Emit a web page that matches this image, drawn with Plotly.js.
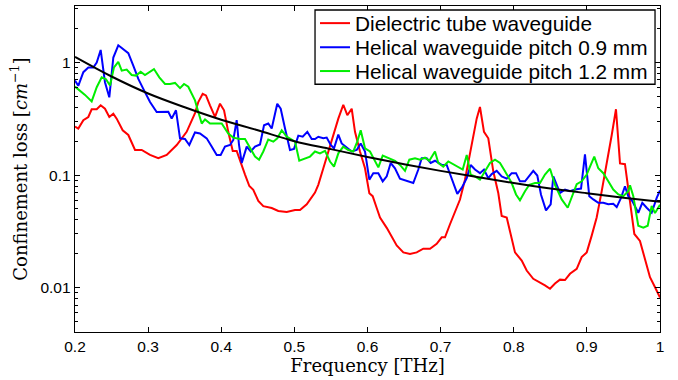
<!DOCTYPE html>
<html>
<head>
<meta charset="utf-8">
<script src="https://cdn.plot.ly/plotly-3.0.1.min.js"></script>
<style>html,body{margin:0;padding:0;background:#fff;}#chart{width:678px;height:380px;}</style>
</head>
<body>
<div id="chart"></div>
<script>
// Dielectric tube waveguide
const redFreq = [0.200,0.2045,0.2114,0.2182,0.2228,0.2297,0.2351,0.2410,0.2469,0.2524,0.2570,0.2652,0.2729,0.2821,0.2912,0.3026,0.3139,0.3254,0.3391,0.3527,0.3641,0.3686,0.3746,0.3791,0.3846,0.3915,0.3983,0.4038,0.4096,0.4157,0.4211,0.4266,0.4325,0.4384,0.4438,0.4507,0.4575,0.4690,0.4780,0.4895,0.5009,0.5077,0.5169,0.5282,0.5327,0.5396,0.5464,0.5532,0.5601,0.5669,0.5724,0.5784,0.5829,0.5897,0.5966,0.6025,0.6071,0.6126,0.6171,0.6263,0.6331,0.6399,0.6490,0.6581,0.6673,0.6763,0.6855,0.6946,0.7015,0.7060,0.7128,0.7197,0.7265,0.7333,0.7392,0.7447,0.7493,0.7538,0.7593,0.7652,0.7720,0.7789,0.7835,0.7904,0.7958,0.8017,0.8109,0.8177,0.8267,0.8359,0.8427,0.8496,0.8564,0.8632,0.8701,0.8769,0.8861,0.8929,0.8998,0.9066,0.9134,0.9203,0.9271,0.9340,0.9398,0.9453,0.9521,0.9590,0.9649,0.9726,0.9795,0.9863,0.9932,1.0];
const redLoss = [0.27,0.259,0.307,0.328,0.384,0.384,0.416,0.388,0.328,0.351,0.317,0.25,0.227,0.167,0.167,0.151,0.141,0.151,0.185,0.242,0.355,0.445,0.526,0.509,0.416,0.328,0.43,0.376,0.242,0.164,0.164,0.128,0.101,0.080,0.074,0.059,0.053,0.051,0.048,0.047,0.049,0.049,0.055,0.07,0.082,0.115,0.162,0.227,0.317,0.421,0.340,0.388,0.242,0.162,0.115,0.069,0.065,0.051,0.042,0.034,0.028,0.0237,0.0206,0.0199,0.0206,0.0222,0.0222,0.0245,0.028,0.028,0.0366,0.0465,0.0607,0.091,0.141,0.212,0.317,0.402,0.242,0.212,0.108,0.069,0.0434,0.042,0.030,0.0206,0.0174,0.0142,0.0120,0.0112,0.0105,0.0098,0.0109,0.0118,0.0117,0.0133,0.0147,0.0187,0.0206,0.029,0.042,0.072,0.123,0.227,0.384,0.127,0.125,0.059,0.030,0.026,0.0174,0.0124,0.0101,0.0082];

// Helical waveguide pitch 0.9 mm
const blueFreq = [0.200,0.2045,0.2114,0.2182,0.2250,0.2297,0.2351,0.2410,0.2469,0.2524,0.2592,0.2660,0.2729,0.2797,0.2866,0.2934,0.3026,0.3117,0.3208,0.3276,0.3322,0.3381,0.3436,0.3504,0.3563,0.3641,0.3709,0.3801,0.3869,0.3938,0.3992,0.4051,0.4120,0.4165,0.4211,0.4243,0.4280,0.4348,0.4403,0.4462,0.4530,0.4585,0.4643,0.4690,0.4766,0.4813,0.4872,0.4940,0.4995,0.5054,0.5114,0.5177,0.5237,0.5282,0.5327,0.5396,0.5442,0.5497,0.5542,0.5601,0.5647,0.5716,0.5784,0.5852,0.5907,0.5966,0.6025,0.6079,0.6148,0.6208,0.6263,0.6317,0.6376,0.6444,0.6536,0.6626,0.6695,0.6741,0.6810,0.6864,0.6923,0.7015,0.7083,0.7151,0.7228,0.7288,0.7357,0.7411,0.7470,0.7538,0.7593,0.7652,0.7698,0.7767,0.7835,0.7904,0.7972,0.8031,0.8085,0.8154,0.8213,0.8267,0.8322,0.8373,0.8441,0.8505,0.8541,0.8632,0.8701,0.8769,0.8838,0.8920,0.8974,0.9033,0.9088,0.9156,0.9225,0.9293,0.9361,0.9408,0.9467,0.9521,0.9566,0.9621,0.9703,0.9758,0.9818,0.9886,0.9955,1.0];
const blueLoss = [0.69,0.62,0.82,0.90,0.90,1.0,1.29,0.667,0.49,1.106,1.42,1.31,1.21,0.935,0.714,0.582,0.445,0.363,0.365,0.365,0.317,0.376,0.212,0.209,0.185,0.239,0.234,0.212,0.179,0.151,0.151,0.179,0.185,0.205,0.307,0.185,0.128,0.179,0.162,0.179,0.187,0.277,0.287,0.259,0.43,0.388,0.259,0.167,0.171,0.224,0.219,0.242,0.209,0.209,0.219,0.212,0.215,0.185,0.173,0.229,0.191,0.175,0.162,0.167,0.191,0.162,0.091,0.104,0.104,0.088,0.0975,0.128,0.115,0.093,0.089,0.085,0.112,0.141,0.141,0.128,0.134,0.123,0.123,0.094,0.068,0.077,0.094,0.123,0.112,0.104,0.112,0.094,0.102,0.109,0.0975,0.093,0.104,0.104,0.088,0.088,0.0975,0.109,0.099,0.067,0.0486,0.055,0.0975,0.0695,0.0744,0.0719,0.0744,0.0759,0.153,0.065,0.0608,0.0567,0.0567,0.055,0.0556,0.052,0.0628,0.0796,0.065,0.0587,0.0463,0.0567,0.0513,0.0463,0.0628,0.073];

// Helical waveguide pitch 1.2 mm
const greenFreq = [0.200,0.2068,0.2137,0.2228,0.2297,0.2365,0.2424,0.2479,0.2533,0.2592,0.2639,0.2707,0.2775,0.2834,0.2898,0.2957,0.3026,0.3080,0.3153,0.3231,0.3299,0.3368,0.3436,0.3491,0.3549,0.3641,0.3686,0.3733,0.3778,0.3846,0.3915,0.4006,0.4096,0.4165,0.4256,0.4325,0.4393,0.4462,0.4517,0.4575,0.4643,0.4712,0.4767,0.4827,0.4895,0.4963,0.5009,0.5067,0.5145,0.5214,0.5282,0.5350,0.5419,0.5487,0.5542,0.5601,0.5669,0.5737,0.5806,0.5860,0.5907,0.5966,0.6034,0.6103,0.6148,0.6208,0.6284,0.6376,0.6444,0.6513,0.6572,0.6650,0.6718,0.6786,0.6845,0.6923,0.6968,0.7036,0.7105,0.7173,0.7242,0.7302,0.7357,0.7411,0.7470,0.7538,0.7607,0.7675,0.7744,0.7812,0.7880,0.7972,0.8031,0.8085,0.8154,0.8213,0.8291,0.8359,0.8427,0.8496,0.8564,0.8656,0.8738,0.8792,0.8861,0.8929,0.8998,0.9043,0.9101,0.9156,0.9225,0.9293,0.9361,0.9430,0.9498,0.9566,0.9590,0.9635,0.9703,0.9772,0.9832,0.9886,0.9932,1.0];
const greenLoss = [0.61,0.563,0.515,0.451,0.603,0.738,0.71,0.624,0.904,1.01,0.845,0.863,0.773,0.764,0.828,0.773,0.828,0.873,0.738,0.644,0.644,0.658,0.591,0.644,0.609,0.46,0.363,0.287,0.312,0.287,0.287,0.287,0.234,0.215,0.209,0.209,0.175,0.146,0.137,0.162,0.207,0.198,0.212,0.25,0.219,0.205,0.198,0.134,0.141,0.146,0.162,0.156,0.164,0.132,0.119,0.156,0.179,0.167,0.162,0.198,0.25,0.173,0.162,0.132,0.117,0.149,0.141,0.134,0.123,0.109,0.137,0.141,0.137,0.143,0.134,0.162,0.128,0.119,0.132,0.125,0.117,0.112,0.151,0.101,0.0975,0.091,0.108,0.128,0.137,0.128,0.108,0.085,0.0673,0.0597,0.0719,0.082,0.085,0.085,0.101,0.114,0.082,0.0608,0.0513,0.0628,0.083,0.088,0.101,0.119,0.146,0.115,0.104,0.088,0.0744,0.0673,0.065,0.0719,0.081,0.065,0.0355,0.0341,0.0355,0.0531,0.046,0.0544];

// Fitted trend (black)
const fitFreq = [0.20,0.25,0.30,0.35,0.40,0.45,0.50,0.55,0.60,0.65,0.70,0.75,0.80,0.85,0.90,0.95,1.00];
const fitLoss = [1.12,0.75,0.53,0.40,0.31,0.25,0.20,0.17,0.145,0.125,0.109,0.096,0.085,0.076,0.069,0.063,0.058];

const legendNames = ['Dielectric tube waveguide','Helical waveguide pitch 0.9 mm','Helical waveguide pitch 1.2 mm'];

const traces = [
  {x: redFreq, y: redLoss, name: legendNames[0], legend:'legend', type:'scatter', mode:'lines', line:{color:'#ff0000', width:2}},
  {x: blueFreq, y: blueLoss, name: legendNames[1], legend:'legend2', type:'scatter', mode:'lines', line:{color:'#0000ff', width:2}},
  {x: greenFreq, y: greenLoss, name: legendNames[2], legend:'legend3', type:'scatter', mode:'lines', line:{color:'#00ee00', width:2}},
  {x: fitFreq, y: fitLoss, name: 'fit', showlegend:false, type:'scatter', mode:'lines', line:{color:'#000000', width:2, shape:'spline'}}
];

const tickFont = {family:'"Liberation Sans", Arial, sans-serif', size:15.5, color:'#000'};
const titleFont = {family:'"DejaVu Serif", serif', size:18, color:'#000'};
const legFont = {family:'"Liberation Sans", Arial, sans-serif', size:20.8, color:'#000'};

function leg(y) {
  return {x:0.4103, xanchor:'left', y:y, yanchor:'middle', bgcolor:'rgba(0,0,0,0)', borderwidth:0, font:legFont};
}

const layout = {
  width: 678, height: 380,
  margin: {l:75, r:18, t:3, b:48},
  paper_bgcolor:'#fff', plot_bgcolor:'#fff',
  showlegend: true,
  legend: leg(0.946),
  legend2: leg(0.872),
  legend3: leg(0.799),
  shapes: [
    {type:'rect', xref:'paper', yref:'paper', x0:0.4103, x1:0.9915, y0:0.7599, y1:0.9878,
     line:{color:'#000', width:1.3}, fillcolor:'#fff', layer:'above'}
  ],
  xaxis: {
    range:[0.2, 1.0], dtick:0.1, tick0:0.2, showgrid:false, zeroline:false,
    showline:true, linecolor:'#000', linewidth:1.3, mirror:'ticks',
    ticks:'inside', ticklen:5, tickcolor:'#000', tickfont:tickFont,
    title:{text:'Frequency [THz]', font:titleFont, standoff:3}
  },
  yaxis: {
    type:'log', range:[-2.393, 0.501], showgrid:false, zeroline:false,
    showline:true, linecolor:'#000', linewidth:1.3, mirror:'ticks',
    tickmode:'array', tickvals:[0.01,0.1,1], ticktext:['0.01','0.1','1'],
    ticks:'inside', ticklen:5, tickcolor:'#000', tickfont:tickFont,
    minor:{dtick:'D1', ticks:'inside', ticklen:3, tickcolor:'#000', showgrid:false},
    title:{text:'Confinement loss [<i>cm</i><sup>−1</sup>]', font:titleFont, standoff:8}
  }
};

Plotly.newPlot('chart', traces, layout, {displayModeBar:false, staticPlot:true});
</script>
</body>
</html>
